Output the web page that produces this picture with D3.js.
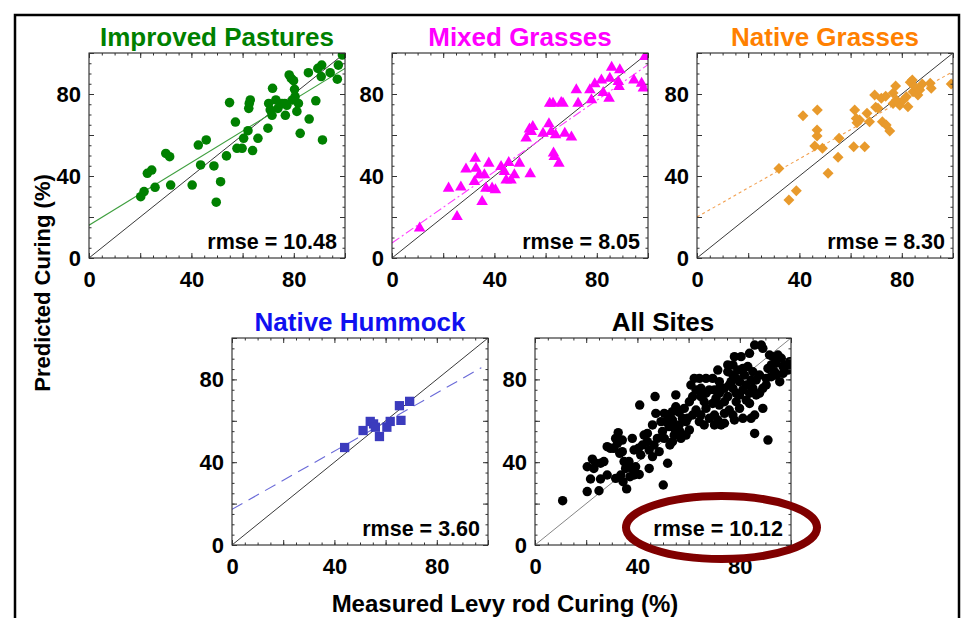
<!DOCTYPE html>
<html>
<head>
<meta charset="utf-8">
<script src="https://cdn.jsdelivr.net/npm/d3@7"></script>
<style>
body { margin: 0; background: #fff; }
svg text { font-family: "Liberation Sans", Arial, sans-serif; font-weight: bold; }
</style>
</head>
<body>
<svg id="chart" width="966" height="618"></svg>
<script>
// panel titles and the rmse printed in each one
var siteNames = ["Improved Pastures", "Mixed Grasses", "Native Grasses", "Native Hummock", "All Sites"];
var rmseValues = ["10.48", "8.05", "8.30", "3.60", "10.12"];
// fitted line of each site: [intercept, slope, last x]; All Sites has none
var fitLines = [[16, 0.765, 100], [7.3, 0.87, 100], [20, 0.71, 100], [17.2, 0.703, 97.4], null];
var tickLabels = [0, 40, 80];

// [measured levy rod curing, predicted curing]
var improvedPts = [
  [20.2,29.9],[21.5,32.4],[22.8,41.3],[24.5,42.9],[25.8,34.5],[30,51],[31.5,49.4],[31.9,35.6],
  [40.3,35.6],[42.7,55.1],[43.6,45.4],[45.8,57.6],[48.8,44.9],[49.7,27.2],[51.4,37.2],[53.7,49.8],
  [54.9,75.8],[57.2,66.3],[57.8,53.5],[59.8,53.5],[60.4,58.4],[62.1,62.1],[62.4,73],[63,77.1],
  [62.6,75.4],[63.9,52.4],[66,58.4],[69.9,63.3],[70.2,75.4],[70.8,72.2],[71.7,82.8],[71.5,69.6],
  [73,77.1],[73.8,73],[75.4,75.4],[76.7,69.6],[77.3,74.5],[78.2,89.3],[79,87.6],[79.9,86.5],
  [79.5,77.1],[80.5,78.7],[81.2,71.5],[81.8,75.4],[82.5,60.8],[85.7,90.4],[86,67.8],[88.6,76.7],
  [89.4,92.5],[90.9,94.1],[91.2,57.6],[90.7,88.5],[94.2,90.4],[97,87.2],[97.4,94.1],[99,99],
  [80.3,82.3],[76.5,75.4]
];
var mixedPts = [
  [10.8,14.5],[25.4,20.2],[22.1,34],[26.9,34.5],[28.9,43.3],[32.5,48.6],[32.8,43.7],[32.2,37.2],
  [35.2,27.5],[36.1,40.5],[36.7,34],[37.8,46.2],[40.4,33.2],[39.1,34],[42.6,44.6],[43.9,42.1],
  [45.6,46.5],[44.6,38],[46.5,38],[47.8,40.5],[49.8,46.2],[54,41],[52.4,58.4],[55,64.1],
  [54.4,61.6],[59,60.8],[61.3,65.4],[62.2,61.6],[61.6,75.4],[63.1,51.1],[63.4,49.4],[65.2,46.2],
  [63.9,60],[66.1,75.8],[67.5,60.8],[70.1,58.9],[72,82],[72.7,75.4],[77.3,82],[79.2,84.9],
  [77.9,77.1],[81.8,86.8],[82.5,80.7],[84.8,77.9],[85.1,87.6],[85.8,93],[89,91.7],[88.4,86],
  [88.7,83.6],[94.5,86.8],[97.5,85.2],[98.2,82.8],[98.8,98.2],[66.8,75.4],[62.9,75.4],[34.1,40.5],
  [53.7,62.8]
];
var nativePts = [
  [32,43.7],[35.9,28.3],[38.8,32.8],[41.4,69.4],[47,72.2],[46.9,62.4],[46.9,59.5],[46,54.6],
  [49,53.5],[51.2,41.3],[55.1,49.1],[55.5,58.4],[61.2,54.3],[61.6,72.2],[62.2,68.1],[62.5,66],
  [65.5,54.3],[66.4,70.6],[67.4,66.5],[69.4,79.5],[70.7,73],[72,77.9],[72.4,66.5],[73.7,78.9],
  [75.3,62],[76.6,75.4],[77.6,83.9],[79.2,74.5],[80.5,76.9],[82.4,73.8],[83.3,85.7],[84.1,86.8],
  [84.4,81.1],[85,83.6],[86.3,79.5],[88,84.9],[91.1,85.2],[91.5,82.8],[99.3,84.9],[81.8,78.7],
  [73.9,64.9],[69.8,73.5],[77.9,77.1],[63.5,67.3],[87,82],[76.6,80.5]
];
var hummockPts = [
  [44,47.1],[51.2,55.3],[54,59.7],[55.3,58.5],[56,56.9],[57.6,52.4],[60.5,56.9],[61.8,59.7],
  [65.4,67.3],[66,60.2],[69.4,69.4]
];
var allPts = [
  [10.8,21.4],[20.4,25.8],[25.0,26.2],[21.7,31.9],[25.6,31.9],[35.8,27.1],[34.4,30.6],[31.5,32.2],
  [37.1,33.0],[38.7,33.8],[40.7,34.1],[50.1,29.0],[20.4,37.8],[22.4,41.5],[23.7,39.5],[25.6,39.5],
  [26.9,40.3],[28.2,47.5],[30.8,46.7],[32.5,54.3],[32.2,49.1],[33.1,44.3],[34.1,45.1],[34.8,40.3],
  [36.7,40.3],[35.4,37.0],[38.0,51.5],[38.7,45.9],[40.4,46.7],[41.3,43.5],[42.6,53.1],[43.9,49.9],
  [44.6,45.9],[45.9,42.7],[46.5,48.3],[48.5,45.1],[51.8,39.5],[47.8,51.5],[49.8,54.8],[50.5,51.5],
  [52.7,48.3],[51.8,62.8],[40.9,67.6],[46.9,71.7],[47.2,63.6],[45.9,58.0],[49.2,59.6],[51.1,59.6],
  [52.4,57.2],[53.7,60.4],[55.0,72.5],[55.0,66.8],[56.3,64.1],[57.6,61.2],[56.6,54.8],[54.4,53.1],
  [53.7,49.9],[57.0,51.5],[59.0,53.1],[60.3,55.6],[59.6,61.2],[61.6,62.8],[62.9,65.2],[60.3,69.2],
  [61.6,71.7],[58.3,66.0],[62.2,80.5],[64.2,80.5],[66.8,80.5],[69.4,80.5],[72.0,78.9],[71.4,84.5],
  [60.9,77.3],[62.9,74.9],[64.8,75.7],[66.8,73.3],[68.1,74.9],[66.1,69.2],[66.8,66.0],[64.8,62.8],
  [64.2,59.6],[66.1,58.0],[68.1,61.2],[70.1,62.8],[71.4,60.4],[72.7,58.0],[74.0,58.8],[69.4,68.4],
  [72.0,67.6],[74.0,69.2],[75.3,71.7],[72.0,73.3],[74.0,75.7],[75.9,77.3],[77.3,75.7],[78.6,73.3],
  [79.9,72.5],[81.2,74.9],[82.5,70.0],[79.9,66.0],[81.2,61.2],[84.4,61.2],[85.8,62.8],[85.8,53.9],
  [89.0,66.0],[91.0,50.7],[89.0,75.7],[90.3,77.3],[92.3,81.3],[94.2,82.1],[95.6,78.9],[96.9,86.2],
  [98.2,87.0],[99.5,88.6],[98.8,84.5],[91.0,85.3],[92.3,87.0],[94.2,87.8],[96.2,90.2],[92.9,91.0],
  [94.9,91.8],[91.6,91.8],[89.0,95.0],[85.8,96.6],[88.4,96.6],[83.8,92.6],[80.5,91.0],[77.9,91.0],
  [77.3,87.0],[79.2,84.5],[81.2,85.3],[83.1,86.2],[85.1,83.7],[87.7,82.1],[86.4,79.7],[84.4,79.7],
  [82.5,77.3],[77.3,82.1],[75.3,83.7],[75.3,87.0],[76.6,78.9],[70.1,74.9],[72.0,75.7],[70.7,70.9],
  [78.6,69.2],[79.9,78.9],[83.8,73.3],[85.1,75.7],[90.3,80.5],[93.6,83.7],[96.9,82.9],[99.5,85.3],
  [70.1,58.0],[74.0,63.6],[75.9,65.2],[77.3,62.8],[77.9,60.4],[83.8,68.4],[86.4,72.5],[87.7,73.3],
  [81.8,82.1],[78.6,80.5],[64.8,71.7],[59.0,59.6],[56.3,58.0],[50.5,63.6],[53.7,64.4],[43.9,53.9],
  [42.0,48.3],[31.5,51.5],[29.5,46.7],[34.1,50.7],[38.0,37.0],[23.0,37.0],[28.2,33.8],[33.5,33.8],
  [44.6,37.0],[39.3,37.8],[54.4,56.4]
];
var sitePoints = [improvedPts, mixedPts, nativePts, hummockPts, allPts];

// ---- layout and look ----
var plotW = 256;
var layout = [
  {left: 89, top: 53, h: 205},
  {left: 392, top: 53, h: 205},
  {left: 697, top: 53, h: 205},
  {left: 232, top: 338, h: 207},
  {left: 535, top: 338, h: 207}
];
var looks = [
  {title: "#008000", mark: "#008000", shape: d3.symbolCircle, size: 72, rot: 0, fit: "#3f9f3f", dash: null, diag: "#222"},
  {title: "#ff00ff", mark: "#ff00ff", shape: d3.symbolTriangle, size: 58, rot: 0, fit: "#ff40ff", dash: "9,3,2,3", diag: "#222"},
  {title: "#ff8000", mark: "#e89a2c", shape: d3.symbolSquare, size: 60, rot: 45, fit: "#f2a050", dash: "3,3", diag: "#222"},
  {title: "#1010f0", mark: "#3b3bbd", shape: d3.symbolSquare, size: 86, rot: 0, fit: "#6a6ad8", dash: "12,7", diag: "#222"},
  {title: "#000", mark: "#000", shape: d3.symbolCircle, size: 70, rot: 0, fit: null, dash: null, diag: "#777"}
];

var svg = d3.select("#chart");

// outer frame (bottom edge is off the page)
svg.append("rect")
    .attr("x", 15).attr("y", 15)
    .attr("width", 944).attr("height", 700)
    .attr("fill", "none").attr("stroke", "#000").attr("stroke-width", 2.5);

siteNames.forEach(function(name, i) {
  var L = layout[i], look = looks[i];
  var x = d3.scaleLinear().domain([0, 100]).range([0, plotW]);
  var y = d3.scaleLinear().domain([0, 100]).range([L.h, 0]);
  var g = svg.append("g").attr("transform", "translate(" + L.left + "," + L.top + ")");

  svg.append("clipPath").attr("id", "clip" + i)
    .append("rect").attr("width", plotW).attr("height", L.h);
  var inner = g.append("g").attr("clip-path", "url(#clip" + i + ")");

  // 1:1 line
  inner.append("line")
      .attr("x1", x(0)).attr("y1", y(0)).attr("x2", x(100)).attr("y2", y(100))
      .attr("stroke", look.diag).attr("stroke-width", 0.9);

  // fitted line
  var f = fitLines[i];
  if (f) {
    inner.append("line")
        .attr("x1", x(0)).attr("y1", y(f[0]))
        .attr("x2", x(f[2])).attr("y2", y(f[0] + f[1] * f[2]))
        .attr("stroke", look.fit).attr("stroke-width", 1.1)
        .attr("stroke-dasharray", look.dash);
  }

  inner.selectAll("path.pt")
    .data(sitePoints[i])
    .join("path")
      .attr("class", "pt")
      .attr("d", d3.symbol().type(look.shape).size(look.size))
      .attr("transform", function(d) {
        return "translate(" + x(d[0]) + "," + y(d[1]) + ") rotate(" + look.rot + ")";
      })
      .attr("fill", look.mark);

  // plot frame
  g.append("rect").attr("width", plotW).attr("height", L.h)
      .attr("fill", "none").attr("stroke", "#111").attr("stroke-width", 1);

  // inward ticks on all four sides
  var minor = d3.range(0, 101, 5), major = d3.range(0, 101, 20);
  function fmt(d) { return tickLabels.indexOf(d) >= 0 ? d : ""; }
  function clean(sel) { sel.select(".domain").remove(); sel.selectAll("line").attr("stroke", "#333"); }

  g.append("g").attr("transform", "translate(0," + L.h + ")")
      .call(d3.axisBottom(x).tickValues(minor).tickSize(-2.5).tickFormat("")).call(clean);
  g.append("g").attr("transform", "translate(0," + L.h + ")")
      .call(d3.axisBottom(x).tickValues(major).tickSize(-5).tickPadding(13).tickFormat(fmt)).call(clean);
  g.append("g").call(d3.axisTop(x).tickValues(minor).tickSize(-2.5).tickFormat("")).call(clean);
  g.append("g").call(d3.axisTop(x).tickValues(major).tickSize(-5).tickFormat("")).call(clean);
  g.append("g").call(d3.axisLeft(y).tickValues(minor).tickSize(-2.5).tickFormat("")).call(clean);
  g.append("g").call(d3.axisLeft(y).tickValues(major).tickSize(-5).tickPadding(8).tickFormat(fmt)).call(clean);
  g.append("g").attr("transform", "translate(" + plotW + ",0)")
      .call(d3.axisRight(y).tickValues(minor).tickSize(-2.5).tickFormat("")).call(clean);
  g.append("g").attr("transform", "translate(" + plotW + ",0)")
      .call(d3.axisRight(y).tickValues(major).tickSize(-5).tickFormat("")).call(clean);
  g.selectAll(".tick text")
      .attr("font-size", 22).attr("fill", "#000")
      .style("font-family", "'Liberation Sans', Arial, sans-serif");

  g.append("text")
      .attr("x", plotW - 8).attr("y", L.h - 9)
      .attr("text-anchor", "end").attr("font-size", 21.5)
      .text("rmse = " + rmseValues[i]);

  g.append("text")
      .attr("x", plotW / 2).attr("y", -7)
      .attr("text-anchor", "middle").attr("font-size", 26)
      .attr("fill", look.title)
      .text(name);
});

svg.append("text")
    .attr("transform", "translate(50,283) rotate(-90)")
    .attr("text-anchor", "middle").attr("font-size", 22)
    .text("Predicted Curing (%)");

svg.append("text")
    .attr("x", 505).attr("y", 612)
    .attr("text-anchor", "middle").attr("font-size", 24)
    .text("Measured Levy rod Curing (%)");

// highlight round the All Sites rmse
svg.append("ellipse")
    .attr("cx", 721.5).attr("cy", 527.5)
    .attr("rx", 95.5).attr("ry", 31.5)
    .attr("fill", "none").attr("stroke", "#800000").attr("stroke-width", 8);
</script>
</body>
</html>
